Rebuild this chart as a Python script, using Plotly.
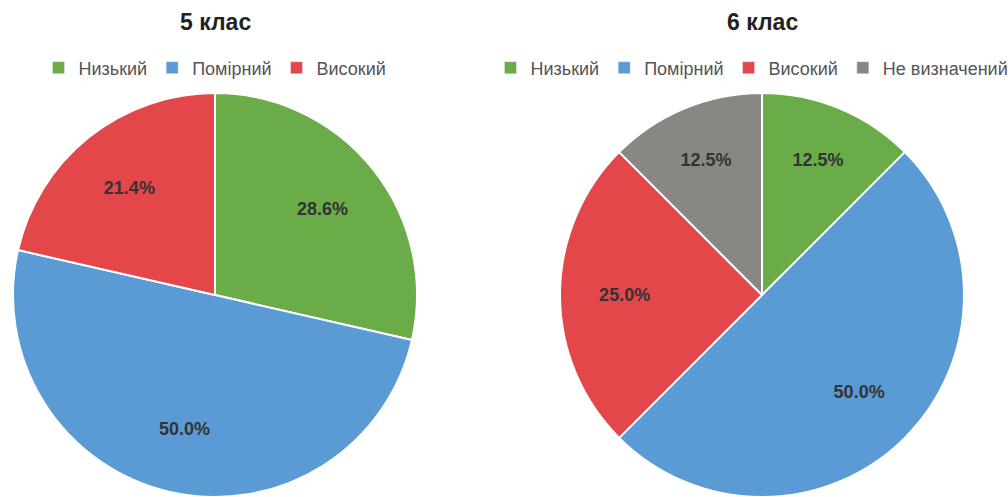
import plotly.graph_objects as go

labels_5 = ['Низький', 'Помірний', 'Високий']
values_5 = [4, 7, 3]
labels_6 = ['Низький', 'Помірний', 'Високий', 'Не визначений']
values_6 = [1, 4, 2, 1]

colors = {
    'Низький': '#6aac48',
    'Помірний': '#5b9bd5',
    'Високий': '#e4474a',
    'Не визначений': '#898782',
}

W, H = 1008, 497
R = 202  # pie radius in px
FONT = 'Arial, Liberation Sans'

fig = go.Figure()


def add_pie(labels, values, cx, legend):
    dom = dict(x=[(cx - R) / W, (cx + R) / W], y=[0, 2 * R / H])
    # filled slices
    fig.add_trace(go.Pie(
        labels=labels, values=values, sort=False,
        direction='clockwise', rotation=0, domain=dom,
        marker=dict(colors=[colors[l] for l in labels],
                    line=dict(color='#ffffff', width=2)),
        textinfo='none', showlegend=False,
        hoverinfo='label+value+percent',
    ))
    # percentage labels, placed mid-ring via a transparent donut on top
    fig.add_trace(go.Pie(
        labels=labels, values=values, sort=False,
        direction='clockwise', rotation=0, domain=dom, hole=0.36,
        marker=dict(colors=['rgba(0,0,0,0)'] * len(labels), line=dict(width=0)),
        texttemplate='%{percent:.1%}',
        textposition='inside',
        insidetextorientation='horizontal',
        textfont=dict(family=FONT, size=18, color='#333333', weight='bold'),
        showlegend=False, hoverinfo='skip',
    ))
    # legend entries
    for l in labels:
        fig.add_trace(go.Bar(x=[None], y=[None], name=l, marker_color=colors[l],
                             legend=legend, showlegend=True))


add_pie(labels_5, values_5, 215, 'legend')
add_pie(labels_6, values_6, 762, 'legend2')

legend_style = dict(
    orientation='h',
    xanchor='center',
    yanchor='middle',
    y=1 - 68 / H,
    font=dict(family=FONT, size=18, color='#555555'),
    itemwidth=30,
    bgcolor='rgba(0,0,0,0)',
)

title_font = dict(family=FONT, size=23, color='#222222')

fig.update_layout(
    width=W,
    height=H,
    margin=dict(l=0, r=0, t=0, b=0, autoexpand=False),
    paper_bgcolor='white',
    plot_bgcolor='white',
    xaxis=dict(visible=False),
    yaxis=dict(visible=False),
    legend=dict(x=215 / W, **legend_style),
    legend2=dict(x=752 / W, **legend_style),
    annotations=[
        dict(text='<b>5 клас</b>', x=215 / W, y=1 - 22 / H, xref='paper', yref='paper',
             xanchor='center', yanchor='middle', showarrow=False, font=title_font),
        dict(text='<b>6 клас</b>', x=762 / W, y=1 - 22 / H, xref='paper', yref='paper',
             xanchor='center', yanchor='middle', showarrow=False, font=title_font),
    ],
)

fig.write_html("out.html", config={'displayModeBar': False},
               post_script="document.body.style.margin='0';")
